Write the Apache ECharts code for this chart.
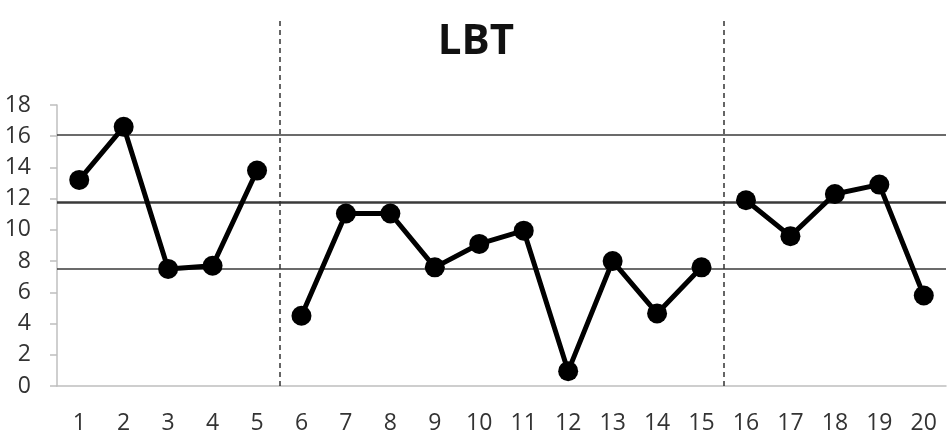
<!DOCTYPE html>
<html>
<head>
<meta charset="utf-8">
<script src="https://cdn.jsdelivr.net/npm/echarts@6/dist/echarts.min.js"></script>
<style>
  html, body { margin: 0; padding: 0; background: #fff; }
  #chart { width: 952px; height: 446px; }
</style>
</head>
<body>
<div id="chart"></div>
<script>
const sessions = ['1', '2', '3', '4', '5', '6', '7', '8', '9', '10',
  '11', '12', '13', '14', '15', '16', '17', '18', '19', '20']
const phaseA = [13.2, 16.6, 7.5, 7.7, 13.8]
const phaseB = [4.5, 11.05, 11.05, 7.6, 9.1, 9.95, 0.95, 8.0, 4.65, 7.6]
const phaseC = [11.9, 9.6, 12.3, 12.9, 5.8]
const refLines = [16.1, 11.8, 7.5]
const phaseBreaks = [5, 15]

const FONT = '"Open Sans", sans-serif'
const LABEL = '#333'
const AXIS = '#bfbfbf'

const toPairs = (values, offset) => values.map((v, i) => [offset + i, v])

const phaseSeries = (values, offset) => ({
  type: 'line',
  data: toPairs(values, offset),
  symbol: 'circle',
  symbolSize: 20,
  color: '#000',
  lineStyle: { color: '#000', width: 5 },
  itemStyle: { color: '#000' },
  z: 5
})

const chart = echarts.init(document.getElementById('chart'))
const option = {
  animation: false,
  title: {
    text: 'LBT',
    left: 'center',
    top: 16,
    textStyle: { fontFamily: FONT, fontSize: 42, fontWeight: 'bold', color: '#111' }
  },
  grid: [
    { left: 57, right: 6, top: 105, bottom: 60 },
    { left: 57, right: 6, top: 18, bottom: 60 }
  ],
  xAxis: [{
    type: 'category',
    gridIndex: 0,
    data: sessions,
    boundaryGap: true,
    axisLine: { lineStyle: { color: AXIS, width: 1.5 } },
    axisTick: { length: 9, lineStyle: { color: AXIS, width: 1.5 } },
    axisLabel: { fontFamily: FONT, fontSize: 23, color: LABEL, margin: 26 },
    splitLine: { show: false }
  }, {
    type: 'value',
    gridIndex: 1,
    min: 0,
    max: sessions.length,
    show: false
  }],
  yAxis: [{
    type: 'value',
    gridIndex: 0,
    min: 0,
    max: 18,
    interval: 2,
    axisLine: { show: true, lineStyle: { color: AXIS, width: 1.5 } },
    axisTick: { show: true, length: 7, lineStyle: { color: AXIS, width: 1.5 } },
    axisLabel: { fontFamily: FONT, fontSize: 23, color: LABEL, margin: 26 },
    splitLine: { show: false }
  }, {
    type: 'value',
    gridIndex: 1,
    min: 0,
    max: 1,
    show: false
  }],
  series: [
    phaseSeries(phaseA, 0),
    phaseSeries(phaseB, phaseA.length),
    phaseSeries(phaseC, phaseA.length + phaseB.length),
    {
      type: 'line',
      data: [],
      silent: true,
      markLine: {
        symbol: 'none',
        label: { show: false },
        silent: true,
        data: refLines.map((v, i) => ({
          yAxis: v,
          lineStyle: { type: 'solid', color: '#3a3a3a', width: i === 1 ? 2.5 : 1.5 }
        }))
      }
    },
    {
      type: 'line',
      xAxisIndex: 1,
      yAxisIndex: 1,
      data: [],
      silent: true,
      markLine: {
        symbol: 'none',
        label: { show: false },
        silent: true,
        lineStyle: { type: [5, 4], color: '#333', width: 1.5 },
        data: phaseBreaks.map(v => ({ xAxis: v }))
      }
    }
  ]
}
chart.setOption(option)
</script>
</body>
</html>
